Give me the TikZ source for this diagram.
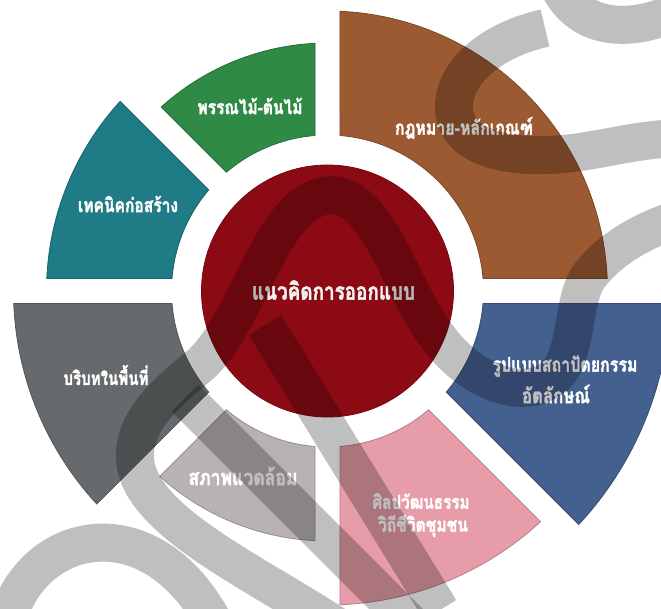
\documentclass[tikz,border=0pt]{standalone}
\usepackage{fontspec}
\usepackage{graphicx}
\newfontfamily\thaifont[Script=Thai, BoldFeatures={FakeBold=2}]{Loma}
\definecolor{cbrown}{HTML}{9C5A33}
\definecolor{cgreen}{HTML}{2F8A46}
\definecolor{cteal}{HTML}{1F7B85}
\definecolor{cdgray}{HTML}{666A6C}
\definecolor{clgray}{HTML}{B8B2B3}
\definecolor{cpink}{HTML}{E69DA9}
\definecolor{cblue}{HTML}{44608F}
\definecolor{cred}{HTML}{8C0A14}
\newcommand{\ringsector}[5]{%
  \pgfmathsetmacro{\ai}{#2+asin(12.5/#4)}%
  \pgfmathsetmacro{\bi}{#3-asin(12.5/#4)}%
  \pgfmathsetmacro{\ao}{#2+asin(12.5/#5)}%
  \pgfmathsetmacro{\bo}{#3-asin(12.5/#5)}%
  \path[#1] (\ai:#4) arc[start angle=\ai, end angle=\bi, radius=#4] -- (\bo:#5) arc[start angle=\bo, end angle=\ao, radius=#5] -- cycle;
}
\newcommand{\lbl}[2]{\resizebox{#1pt}{!}{\scalebox{1}[1.25]{\thaifont\bfseries #2}}}
\tikzset{
  sect/.style={fill=#1, draw=#1!80!black, line width=0.8pt},
  lab/.style={text=white, inner sep=0pt, anchor=center},
  wm/.style={draw=black, draw opacity=0.25, line width=38pt, line cap=butt}
}
\begin{document}
\begin{tikzpicture}[x=1pt,y=1pt]
\fill[white] (0,0) rectangle (661,608);
\useasboundingbox (0,0) rectangle (661,608);
\clip (0,0) rectangle (661,608);
\begin{scope}[shift={(327.5,317)}]
  \ringsector{sect=cbrown}{0}{90}{156}{280}
  \ringsector{sect=cgreen}{90}{135}{156}{248}
  \ringsector{sect=cteal}{135}{180}{156}{281}
  \ringsector{sect=cdgray}{180}{225}{156}{314}
  \ringsector{sect=clgray}{225}{270}{156}{250}
  \ringsector{sect=cpink}{270}{315}{156}{314}
  \ringsector{sect=cblue}{315}{360}{156}{343}
  \fill[cred, draw=cred!85!black, line width=0.8pt] (0,0) circle[radius=126];
\end{scope}
\node[lab, text=white!90!gray] (core) at (333.5,318) {\lbl{163}{แนวคิดการออกแบบ}};
\node[lab] (plants) at (250,502) {\lbl{105}{พรรณไม้-ต้นไม้}};
\node[lab] (tech) at (128,404) {\lbl{100}{เทคนิคก่อสร้าง}};
\node[lab] (law) at (464,480) {\lbl{138}{กฎหมาย-หลักเกณฑ์}};
\node[lab] (context) at (106,233) {\lbl{85}{บริบทในพื้นที่}};
\node[lab] (env) at (243,132) {\lbl{109}{สภาพแวดล้อม}};
\node[lab] (arch1) at (565,242) {\lbl{145}{รูปแบบสถาปัตยกรรม}};
\node[lab] (arch2) at (556,214) {\lbl{68}{อัตลักษณ์}};
\node[lab] (art1) at (421,107) {\lbl{97}{ศิลปวัฒนธรรม}};
\node[lab] (art2) at (423,82) {\lbl{90}{วิถีชีวิตชุมชน}};
\begin{scope}[shift={(0,608)}, yscale=-1]
  \draw[wm] (556,-20) .. controls (575,30) and (630,38) .. (690,5);
  \draw[wm] (545,28) .. controls (470,45) and (440,95) .. (460,128) .. controls (480,158) and (540,158) .. (580,152) .. controls (620,146) and (645,138) .. (690,138);
  \draw[wm] (335,625) .. controls (250,570) and (140,520) .. (135,460) .. controls (132,420) and (170,390) .. (200,365) .. controls (250,320) and (270,200) .. (330,195) .. controls (380,195) and (400,290) .. (440,340) .. controls (470,380) and (520,400) .. (550,380) .. controls (580,360) and (570,300) .. (590,275) .. controls (610,250) and (640,230) .. (690,215);
  \draw[wm] (185,398) -- (410,623);
  \draw[wm] (265,325) -- (440,610);
  \draw[wm] (5,630) .. controls (25,530) and (150,500) .. (215,625);
\end{scope}
\end{tikzpicture}
\end{document}
